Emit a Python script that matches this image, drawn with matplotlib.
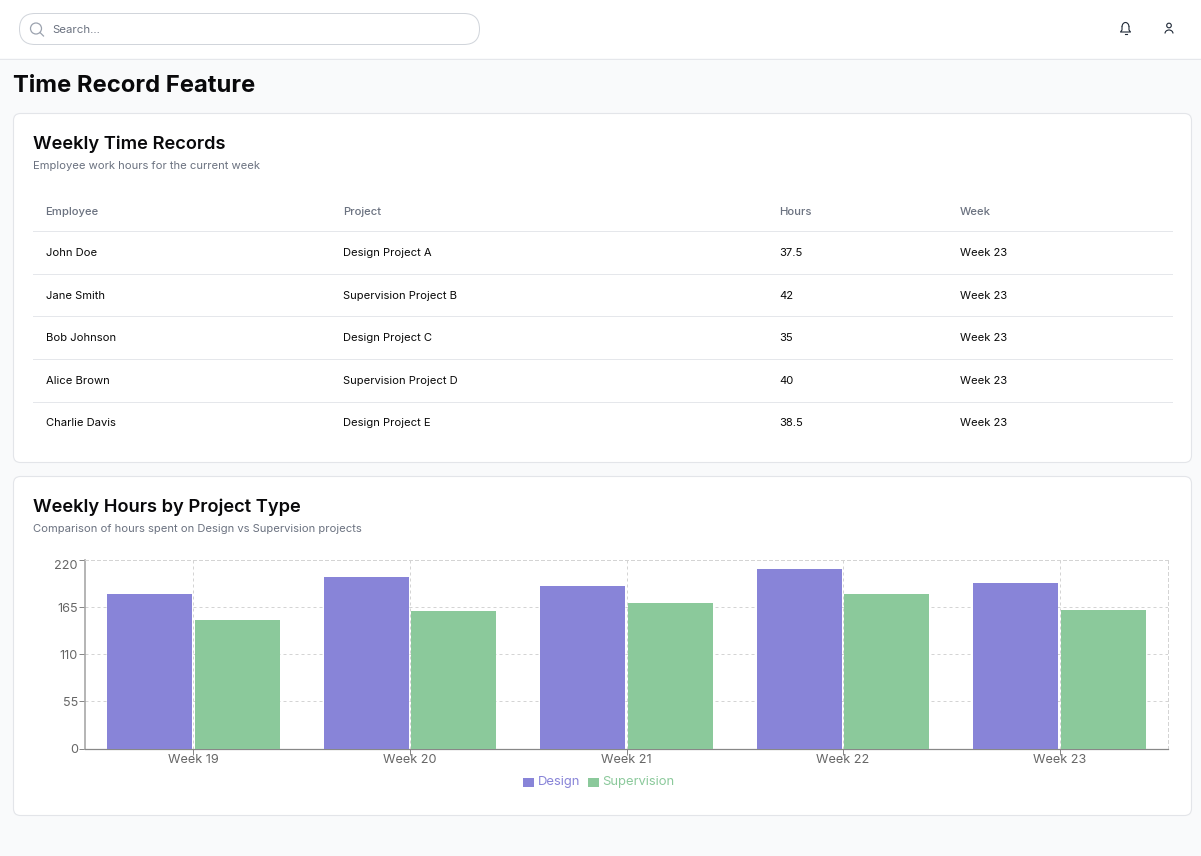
import matplotlib
matplotlib.use('Agg')
import matplotlib.pyplot as plt
import numpy as np
from matplotlib.patches import FancyBboxPatch, Rectangle, Circle, Arc

plt.rcParams['font.family'] = ['Inter', 'DejaVu Sans']

W, H = 1201, 856

# table
headers = ['Employee', 'Project', 'Hours', 'Week']
employees = ['John Doe', 'Jane Smith', 'Bob Johnson', 'Alice Brown', 'Charlie Davis']
projects = ['Design Project A', 'Supervision Project B', 'Design Project C',
            'Supervision Project D', 'Design Project E']
hours = ['37.5', '42', '35', '40', '38.5']
record_weeks = ['Week 23', 'Week 23', 'Week 23', 'Week 23', 'Week 23']

# chart
weeks = ['Week 19', 'Week 20', 'Week 21', 'Week 22', 'Week 23']
design = [180, 200, 190, 210, 193]
supervision = [150, 160, 170, 180, 162]
yticks = [0, 55, 110, 165, 220]

purple = '#8884d8'
green = '#8bc99b'
grey = '#6b7280'

fig = plt.figure(figsize=(W / 100, H / 100), dpi=100, facecolor='#f9fafb')

# page layer, in pixels from the top left
bg = fig.add_axes([0, 0, 1, 1])
bg.set_xlim(0, W)
bg.set_ylim(H, 0)
bg.axis('off')


def card(x0, y0, x1, y1):
    bg.add_patch(FancyBboxPatch((x0, y0), x1 - x0, y1 - y0, boxstyle='round,pad=0,rounding_size=7',
                                fc='white', ec='#e3e5e9', lw=0.8))


def txt(x, y, s, size, color='#0a0a0a', weight='normal', **kw):
    bg.text(x, y, s, fontsize=size * 0.72, color=color, fontweight=weight, va='center', **kw)


# header bar
bg.add_patch(Rectangle((0, 0), W, 58, fc='white', ec='none'))
bg.plot([0, W], [58.5, 58.5], color='#e5e7eb', lw=0.72)
bg.add_patch(FancyBboxPatch((19.5, 13.5), 460, 31, boxstyle='round,pad=0,rounding_size=15.5',
                            fc='white', ec='#d1d5db', lw=0.72))
bg.add_patch(Circle((36, 28.5), 5.5, fc='none', ec='#9ca3af', lw=0.9))
bg.plot([40, 43.5], [32.5, 36], color='#9ca3af', lw=0.9)
txt(52, 30, 'Search...', 11.5, color='#6b7280')

# bell
bg.add_patch(Arc((1125.5, 27), 7, 9, theta1=180, theta2=360, ec='#1f2937', lw=0.8))
bg.plot([1122, 1122, 1120.5, 1130.5, 1129, 1129], [27, 30, 32, 32, 30, 27], color='#1f2937', lw=0.8)
bg.plot([1124.5, 1126.5], [34, 34], color='#1f2937', lw=0.8)
# user
bg.add_patch(Circle((1169, 25.5), 2.3, fc='none', ec='#1f2937', lw=0.8))
bg.add_patch(Arc((1169, 33.5), 8, 7, theta1=180, theta2=360, ec='#1f2937', lw=0.8))

txt(13, 86, 'Time Record Feature', 23.8, weight='bold', color='#09090b')

# table card
card(13.5, 113.5, 1191.5, 462.5)
txt(33, 144, 'Weekly Time Records', 18.3, weight='semibold', color='#09090b')
txt(33, 166, 'Employee work hours for the current week', 11.2, color=grey)

col_x = [45.5, 343, 779.5, 960]
row_y = [253, 296, 338, 381, 423]
for x, h in zip(col_x, headers):
    txt(x, 212, h, 11.3, color=grey, weight='medium')
for y in [230.5, 273.5, 315.5, 358.5, 401.5]:
    bg.plot([33, 1172], [y, y], color='#e5e7eb', lw=0.72)
for i, y in enumerate(row_y):
    txt(col_x[0], y, employees[i], 11.2)
    txt(col_x[1], y, projects[i], 11.2)
    txt(col_x[2], y, hours[i], 11.2)
    txt(col_x[3], y, record_weeks[i], 11.2)

# chart card
card(13.5, 476.5, 1191.5, 815.5)
txt(33, 507, 'Weekly Hours by Project Type', 18.3, weight='semibold', color='#09090b')
txt(33, 529, 'Comparison of hours spent on Design vs Supervision projects', 11.2, color=grey)

# bars
ax = fig.add_axes([85 / W, 1 - 748.5 / H, (1168 - 85) / W, (748.5 - 560) / H])
ax.patch.set_alpha(0)
x = np.arange(len(weeks))
bar_w = 85 / 216.6
offset = 43.8 / 216.6
ax.bar(x - offset, design, bar_w, color=purple, zorder=3)
ax.bar(x + offset, supervision, bar_w, color=green, zorder=3)
ax.set_xlim(-0.5, len(weeks) - 0.5)
ax.set_ylim(0, 220)
ax.set_xticks(x)
ax.set_xticklabels(weeks)
ax.set_yticks(yticks)
ax.set_axisbelow(True)
ax.grid(True, color='#d4d4d4', lw=0.72, linestyle=(0, (3, 3)))
for s in ['top', 'right']:
    ax.spines[s].set_color('#d4d4d4')
    ax.spines[s].set_linewidth(0.72)
    ax.spines[s].set_linestyle((0, (3, 3)))
ax.spines['left'].set_color('#a8a8a8')
ax.spines['left'].set_linewidth(1.2)
ax.spines['bottom'].set_color('#888888')
ax.spines['bottom'].set_linewidth(0.9)
ax.tick_params(axis='both', color='#888888', length=4.3, width=0.72, labelcolor='#666666', labelsize=9.1)
ax.tick_params(axis='y', pad=0.8)
ax.tick_params(axis='x', pad=-0.5)
ax.get_yticklabels()[-1].set_verticalalignment('top')

# legend
bg.add_patch(Rectangle((523, 778), 11, 9, fc=purple, ec='none'))
bg.add_patch(Rectangle((588, 778), 11, 9, fc=green, ec='none'))
txt(538, 782.5, 'Design', 13, color=purple)
txt(602, 782.5, 'Supervision', 13, color=green)

fig.savefig('out.png', dpi=100, facecolor=fig.get_facecolor())
